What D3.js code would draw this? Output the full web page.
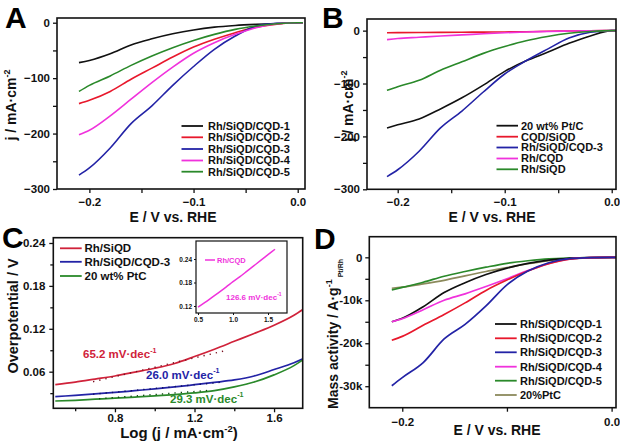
<!DOCTYPE html>
<html><head><meta charset="utf-8">
<script src="https://cdn.jsdelivr.net/npm/d3@7"></script>
<style>
body{margin:0;background:#fff}
text{font-family:"Liberation Sans",Arial,sans-serif;font-weight:bold;fill:#111}
</style>
</head><body>
<svg id="c" width="620" height="443"></svg>
<script>
// ---------- DATA ----------
// Panel A : LSV curves, j (mA/cm2) vs E (V vs RHE)
const aV = [-0.21,-0.2,-0.18,-0.16,-0.14,-0.12,-0.1,-0.08,-0.06,-0.04,-0.02,0,0.005];
const aCQD1 = [-72,-68,-56,-40,-29,-20,-13,-8,-5,-3,-1.5,0,0];
const aCQD2 = [-146,-140,-124,-102,-82,-62,-44,-30,-18,-8,-2.5,0,0];
const aCQD3 = [-275,-262,-226,-182,-150,-113,-79,-48,-24,-6,-1,0,0];
const aCQD4 = [-202,-194,-168,-138,-108,-80,-55,-36,-21,-9,-2,0,0];
const aCQD5 = [-124,-113,-96,-77,-60,-45,-32,-21,-12,-6,-2,0,0];
const aNames = ["Rh/SiQD/CQD-1","Rh/SiQD/CQD-2","Rh/SiQD/CQD-3","Rh/SiQD/CQD-4","Rh/SiQD/CQD-5"];

// Panel B
const bV = [-0.21,-0.2,-0.18,-0.16,-0.14,-0.12,-0.1,-0.08,-0.06,-0.04,-0.02,0,0.004];
const bPtC = [-184,-178,-167,-148,-127,-103,-77,-57,-41,-24,-10,0,0];
const bCQDSiQD = [-4,-3.8,-3.6,-3.3,-3,-2.8,-2.5,-2,-1.2,-0.7,-0.3,0,0];
const bCQD3 = [-276,-263,-228,-184,-152,-116,-82,-57,-35,-14,-3,0,0];
const bRhCQD = [-17,-15,-12.5,-10,-8,-6,-4,-2.5,-1.5,-0.7,-0.2,0,0];
const bRhSiQD = [-113,-106,-94,-75,-59,-43,-30,-19,-11,-5,-1.5,0,0];
const bNames = ["20 wt% Pt/C","CQD/SiQD","Rh/SiQD/CQD-3","Rh/CQD","Rh/SiQD"];

// Panel C : Tafel plots, overpotential (V) vs log j
const cLog = [0.5,0.6,0.7,0.8,0.9,1.0,1.1,1.2,1.3,1.4,1.5,1.6,1.7,1.745];
const cRhSiQD = [0.042,0.0455,0.0497,0.054,0.0594,0.0648,0.0715,0.0812,0.0915,0.1025,0.1135,0.125,0.139,0.147];
const cCQD3 = [0.025,0.027,0.029,0.031,0.0335,0.036,0.0387,0.0418,0.045,0.0485,0.054,0.063,0.0725,0.078];
const cPtC = [0.019,0.020,0.0215,0.0229,0.0245,0.0262,0.028,0.0303,0.0335,0.0387,0.0455,0.0555,0.0685,0.0765];
const cFitRed = [[0.69,0.046],[1.355,0.0894]];
const cFitBlue = [[0.69,0.0285],[1.33,0.0451]];
const cFitGreen = [[0.72,0.0222],[1.28,0.034]];
const cNames = ["Rh/SiQD","Rh/SiQD/CQD-3","20 wt% PtC"];
const cSlopes = ["65.2","26.0","29.3"];
// inset
const iLog = [0.5,0.6,0.7,0.8,0.9,1.0,1.1,1.2,1.3,1.4,1.5,1.6];
const iRhCQD = [0.117,0.129,0.142,0.155,0.168,0.182,0.195,0.209,0.223,0.237,0.251,0.265];
const iSlope = "126.6";

// Panel D : mass activity (A/g) vs E
const dV = [-0.21,-0.2,-0.18,-0.16,-0.14,-0.12,-0.1,-0.08,-0.06,-0.04,-0.02,0,0.004];
const dCQD1 = [-15000,-14200,-11500,-8200,-5900,-4000,-2500,-1400,-650,-250,-50,0,0];
const dCQD2 = [-19300,-18400,-15800,-13300,-10600,-7700,-5300,-3200,-1500,-400,-50,0,0];
const dCQD3 = [-29900,-28000,-24500,-19000,-15600,-11300,-6400,-3200,-1250,-300,-50,0,0];
const dCQD4 = [-15000,-14300,-12200,-10000,-8500,-6800,-5000,-3100,-1400,-350,-50,0,0];
const dCQD5 = [-7600,-7000,-5800,-4400,-3300,-2300,-1400,-800,-350,-150,-50,0,0];
const dPtC = [-7200,-6950,-6200,-5350,-4300,-3300,-2400,-1500,-750,-300,-100,0,0];
const dNames = ["Rh/SiQD/CQD-1","Rh/SiQD/CQD-2","Rh/SiQD/CQD-3","Rh/SiQD/CQD-4","Rh/SiQD/CQD-5","20%PtC"];

// ---------- DRAW ----------
const svg = d3.select("#c");
const COL = {black:"#111111", red:"#e8182c", blue:"#2323a6", mag:"#f032dc", green:"#2a892a", olive:"#8c8a5c", cred:"#d0223a"};

let clipId = 0;
function panel(o){
  const x = d3.scaleLinear().domain(o.xd).range([o.l,o.r]);
  const y = d3.scaleLinear().domain(o.yd).range([o.b,o.t]);
  const g = svg.append("g");
  const fs = o.fs || 11.5;
  const tl = o.tl || 4;
  if(o.xm){
    g.append("g").attr("transform",`translate(0,${o.b})`)
      .call(d3.axisBottom(x).tickValues(o.xm).tickSize(o.tlm||tl).tickFormat(""))
      .call(a=>a.select(".domain").remove());
  }
  if(o.ym){
    g.append("g").attr("transform",`translate(${o.l},0)`)
      .call(d3.axisLeft(y).tickValues(o.ym).tickSize(o.tlm||tl).tickFormat(""))
      .call(a=>a.select(".domain").remove());
  }
  g.append("g").attr("transform",`translate(0,${o.b})`)
    .call(d3.axisBottom(x).tickValues(o.xt).tickSize(tl).tickPadding(o.xpad||4).tickFormat(o.xf))
    .call(a=>a.select(".domain").remove())
    .call(a=>a.selectAll("text").attr("font-size",fs).attr("font-weight","bold").attr("font-family","Liberation Sans, Arial, sans-serif").style("fill","#111"));
  g.append("g").attr("transform",`translate(${o.l},0)`)
    .call(d3.axisLeft(y).tickValues(o.yt).tickSize(tl).tickPadding(o.ypad||3).tickFormat(o.yf))
    .call(a=>a.select(".domain").remove())
    .call(a=>a.selectAll("text").attr("font-size",fs).attr("font-weight","bold").attr("font-family","Liberation Sans, Arial, sans-serif").style("fill","#111"));
  g.selectAll(".tick line").attr("stroke","#111").attr("stroke-width",o.tw||1.3);
  const id = "clip"+(clipId++);
  svg.append("clipPath").attr("id",id).append("rect")
    .attr("x",o.l).attr("y",o.t).attr("width",o.r-o.l).attr("height",o.b-o.t);
  const plot = svg.append("g").attr("clip-path",`url(#${id})`);
  const frame = () => svg.append("rect").attr("x",o.l).attr("y",o.t)
      .attr("width",o.r-o.l).attr("height",o.b-o.t)
      .attr("fill","none").attr("stroke","#111").attr("stroke-width",o.fw||1.6);
  return {x,y,plot,frame};
}

function drawSeries(p, xs, ys, color, w){
  const line = d3.line().x(d=>p.x(d[0])).y(d=>p.y(d[1])).curve(d3.curveMonotoneX);
  p.plot.append("path").datum(d3.zip(xs,ys)).attr("d",line)
    .attr("fill","none").attr("stroke",color).attr("stroke-width",w||1.6);
}

function legend(names, colors, lx0, lx1, tx, rows, fs){
  names.forEach((n,i)=>{
    svg.append("line").attr("x1",lx0).attr("x2",lx1).attr("y1",rows[i]).attr("y2",rows[i])
      .attr("stroke",colors[i]).attr("stroke-width",1.8);
    svg.append("text").attr("x",tx).attr("y",rows[i]).attr("dy","0.36em")
      .attr("font-size",fs).text(n);
  });
}

function letter(t,x,y){
  svg.append("text").attr("x",x).attr("y",y).attr("font-size",30).style("fill","#000").text(t);
}

function jTitle(cx,cy){
  const t = svg.append("text").attr("transform",`translate(${cx},${cy}) rotate(-90)`)
    .attr("text-anchor","middle").attr("font-size",14);
  t.append("tspan").text("j / mA·cm");
  t.append("tspan").attr("font-size",9).attr("dy",-6).text("-2");
}
function eTitle(cx,by){
  svg.append("text").attr("x",cx).attr("y",by).attr("text-anchor","middle")
    .attr("font-size",14).text("E / V vs. RHE");
}

// ----- Panel A -----
const A = panel({l:57,r:305,t:18,b:189, xd:[-0.2311,0.007], yd:[-300,8.5],
  xt:[-0.2,-0.1,0], xm:[-0.15,-0.05], yt:[0,-100,-200,-300], ym:[-50,-150,-250],
  xf:d3.format(".1f"), yf:d=>d3.format("d")(d), xpad:5});
const aCols = [COL.black,COL.red,COL.blue,COL.mag,COL.green];
[aCQD1,aCQD2,aCQD3,aCQD4,aCQD5].forEach((s,i)=>drawSeries(A,aV,s,aCols[i]));
A.frame();
legend(aNames,aCols,181.5,203,208,[126,137.3,149,160.5,171.7],11);
letter("A",5,27.5);
jTitle(16,105);
eTitle(173,222);

// ----- Panel B -----
const B = panel({l:367,r:616,t:19,b:189.3, xd:[-0.2287,0.004], yd:[-300,22],
  xt:[-0.2,-0.1,0], xm:[-0.15,-0.05], yt:[0,-100,-200,-300], ym:[-50,-150,-250],
  xf:d3.format(".1f"), yf:d=>d3.format("d")(d), xpad:5});
const bCols = [COL.black,COL.red,COL.blue,COL.mag,COL.green];
[bPtC,bCQDSiQD,bCQD3,bRhCQD,bRhSiQD].forEach((s,i)=>drawSeries(B,bV,s,bCols[i]));
B.frame();
legend(bNames,bCols,496.5,518,521,[125.7,136.7,147.5,158.5,169.3],11);
letter("B",322,27.5);
jTitle(353,106);
eTitle(492,222);

// ----- Panel C -----
const C = panel({l:53.3,r:302.7,t:237.7,b:408.3, xd:[0.49,1.744], yd:[0.0088,0.2474],
  xt:[0.8,1.2,1.6], xm:[0.6,1.0,1.4], yt:[0.24,0.18,0.12,0.06], ym:[0.21,0.15,0.09,0.03],
  xf:d3.format(".1f"), yf:d3.format(".2f"), xpad:2, ypad:4, tlm:3});
const cCols = [COL.cred,COL.blue,COL.green];
[cRhSiQD,cCQD3,cPtC].forEach((s,i)=>drawSeries(C,cLog,s,cCols[i],1.7));
const fitLine = d3.line().x(d=>C.x(d[0])).y(d=>C.y(d[1]));
[[cFitRed,"#7a1020"],[cFitBlue,"#101060"],[cFitGreen,"#104a10"]].forEach(([f,c])=>{
  C.plot.append("path").datum(f).attr("d",fitLine).attr("fill","none")
    .attr("stroke",c).attr("stroke-width",1.4).attr("stroke-dasharray","1.3,5");
});
C.frame();
legend(cNames,cCols,60,81.7,84.5,[248.3,261.8,276],11.5);
function slopeLabel(v,x,y,color,fs){
  const t = svg.append("text").attr("x",x).attr("y",y).attr("font-size",fs).style("fill",color);
  t.append("tspan").text(v+"  mV·dec");
  t.append("tspan").attr("font-size",fs*0.62).attr("dy",-fs*0.45).text("-1");
}
slopeLabel(cSlopes[0],83,358,COL.cred,11.5);
slopeLabel(cSlopes[1],146,378.5,COL.blue,11.5);
slopeLabel(cSlopes[2],170,402.5,COL.green,11.5);
letter("C",2,248);
svg.append("text").attr("transform","translate(18,316) rotate(-90)")
  .attr("text-anchor","middle").attr("font-size",14.5).text("Overpotential / V");
{
  const t = svg.append("text").attr("x",179).attr("y",438).attr("text-anchor","middle").attr("font-size",15);
  t.append("tspan").text("Log (j / mA·cm");
  t.append("tspan").attr("font-size",9.5).attr("dy",-6).text("-2");
  t.append("tspan").attr("dy",6).text(")");
}

// inset
svg.append("rect").attr("x",196).attr("y",241).attr("width",91).attr("height",72).attr("fill","#fff");
const I = panel({l:196,r:287,t:241,b:313, xd:[0.4714,1.7714], yd:[0.1021,0.286],
  xt:[0.5,1.0,1.5], yt:[0.12,0.18,0.24], xf:d3.format(".1f"), yf:d3.format(".2f"),
  fs:6.5, tl:2, xpad:2, ypad:2, fw:1.2, tw:1});
drawSeries(I,iLog,iRhCQD,COL.mag,1.5);
I.frame();
svg.append("line").attr("x1",205).attr("x2",215).attr("y1",260).attr("y2",260).attr("stroke",COL.mag).attr("stroke-width",1.5);
svg.append("text").attr("x",217).attr("y",260).attr("dy","0.36em").attr("font-size",7.5).style("fill",COL.mag).text("Rh/CQD");
slopeLabel(iSlope,226,300,COL.mag,8);

// ----- Panel D -----
const D = panel({l:369.3,r:616,t:236.7,b:407.7, xd:[-0.2315,0.0042], yd:[-35000,4800],
  xt:[-0.2,0], xm:[-0.1], yt:[0,-10000,-20000,-30000], ym:[-5000,-15000,-25000],
  xf:d3.format(".1f"), yf:d=>d===0?"0":(d/1000)+"k", xpad:6});
const dCols = [COL.black,COL.red,COL.blue,COL.mag,COL.green,COL.olive];
const dSeries = [dPtC,dCQD5,dCQD1,dCQD4,dCQD2,dCQD3];
const dDrawCols = [COL.olive,COL.green,COL.black,COL.mag,COL.red,COL.blue];
dSeries.forEach((s,i)=>drawSeries(D,dV,s,dDrawCols[i],1.7));
D.frame();
legend(dNames,dCols,495,516.7,520,[324,338.3,352.3,366.7,380.7,395],11);
letter("D",314,249);
{
  const t = svg.append("text").attr("transform","translate(338,334) rotate(-90)")
    .attr("text-anchor","middle").attr("font-size",14);
  t.append("tspan").text("Mass activity / A·g");
  t.append("tspan").attr("font-size",9).attr("dy",-6).text("-1");
  t.append("tspan").attr("font-size",7).attr("dy",11).attr("dx",2).text("Pt/Rh");
}
eTitle(497,435);
</script>
</body></html>
